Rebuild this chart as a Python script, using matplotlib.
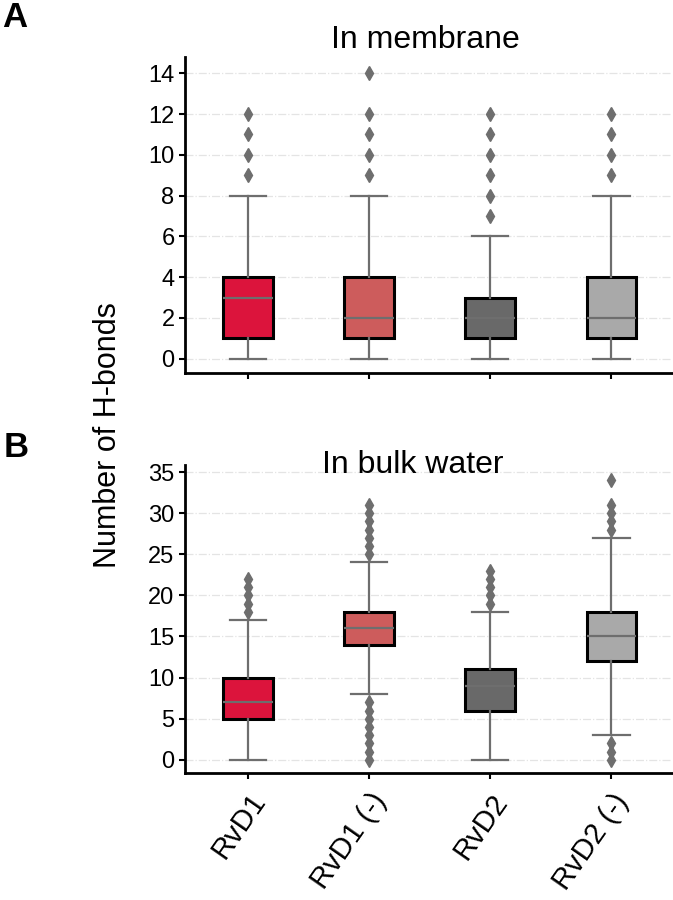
import matplotlib.pyplot as plt

plt.rcParams['font.family'] = ['Liberation Sans', 'DejaVu Sans']

labels = ["RvD1", "RvD1 (-)", "RvD2", "RvD2 (-)"]
colors = ["#DC143C", "#CD5C5C", "#696969", "#A9A9A9"]

# membrane: q1, median, q3, whisker low, whisker high, outliers
mem_q1 = [1, 1, 1, 1]
mem_med = [3, 2, 2, 2]
mem_q3 = [4, 4, 3, 4]
mem_lo = [0, 0, 0, 0]
mem_hi = [8, 8, 6, 8]
mem_fliers = [[9, 10, 11, 12],
              [9, 10, 11, 12, 14],
              [7, 8, 9, 10, 11, 12],
              [9, 10, 11, 12]]

# bulk water
bulk_q1 = [5, 14, 6, 12]
bulk_med = [7, 16, 9, 15]
bulk_q3 = [10, 18, 11, 18]
bulk_lo = [0, 8, 0, 3]
bulk_hi = [17, 24, 18, 27]
bulk_fliers = [[18, 19, 20, 21, 22],
               [0, 1, 2, 3, 4, 5, 6, 7, 25, 26, 27, 28, 29, 30, 31],
               [19, 20, 21, 22, 23],
               [0, 1, 2, 28, 29, 30, 31, 34]]


def make_stats(q1, med, q3, lo, hi, fliers):
    stats = []
    for i in range(len(q1)):
        stats.append(dict(q1=q1[i], med=med[i], q3=q3[i], whislo=lo[i],
                          whishi=hi[i], fliers=fliers[i], label=labels[i]))
    return stats


def draw(ax, stats, title, title_xy, ticks, ylim):
    line_c = "#6e6e6e"
    bp = ax.bxp(stats, positions=range(4), widths=0.41, patch_artist=True,
                boxprops=dict(edgecolor="black", linewidth=2.2),
                medianprops=dict(color=line_c, linewidth=1.6),
                whiskerprops=dict(color=line_c, linewidth=1.6),
                capprops=dict(color=line_c, linewidth=1.6),
                flierprops=dict(marker="d", markerfacecolor=line_c,
                                markeredgecolor=line_c, markersize=7),
                capwidths=0.3)
    for patch, c in zip(bp["boxes"], colors):
        patch.set_facecolor(c)
    ax.set_xlim(-0.52, 3.5)
    ax.set_ylim(*ylim)
    ax.set_yticks(ticks)
    ax.grid(axis="y", color="#e4e4e4", linestyle="-.", linewidth=0.9)
    ax.set_axisbelow(True)
    for s in ["top", "right"]:
        ax.spines[s].set_visible(False)
    for s in ["left", "bottom"]:
        ax.spines[s].set_linewidth(2)
    ax.tick_params(width=1.5, length=4, labelsize=17)
    ax.text(title_xy[0], title_xy[1], title, transform=ax.transAxes,
            fontsize=23, ha="center", va="baseline")


fig = plt.figure(figsize=(6.73, 9), dpi=100)
ax1 = fig.add_axes([0.2749, 0.5856, 0.7236, 0.3511])
ax2 = fig.add_axes([0.2749, 0.1411, 0.7236, 0.3422])

draw(ax1, make_stats(mem_q1, mem_med, mem_q3, mem_lo, mem_hi, mem_fliers),
     "In membrane", (0.494, 1.027), range(0, 15, 2), (-0.7, 14.8))
draw(ax2, make_stats(bulk_q1, bulk_med, bulk_q3, bulk_lo, bulk_hi, bulk_fliers),
     "In bulk water", (0.468, 0.975), range(0, 36, 5), (-1.6, 35.85))

ax1.set_xticks(range(4))
ax1.set_xticklabels([])
ax2.set_xticks(range(4))
ax2.set_xticklabels(labels, rotation=55, ha="right", rotation_mode="anchor",
                    fontsize=21)
ax2.tick_params(axis="x", pad=7)

fig.text(0.160, 0.517, "Number of H-bonds", rotation=90, fontsize=22,
         ha="center", va="center")
fig.text(0.003, 0.981, "A", fontsize=25, fontweight="bold", va="center")
fig.text(0.005, 0.503, "B", fontsize=25, fontweight="bold", va="center")

fig.savefig("out.png", dpi=100)
